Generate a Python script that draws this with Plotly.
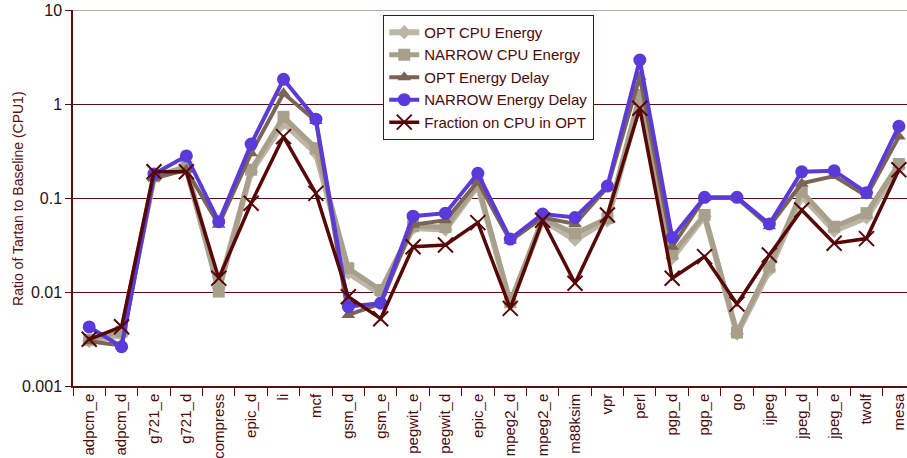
import plotly.graph_objects as go

categories = ["adpcm_e", "adpcm_d", "g721_e", "g721_d", "compress", "epic_d", "li", "mcf",
              "gsm_d", "gsm_e", "pegwit_e", "pegwit_d", "epic_e", "mpeg2_d", "mpeg2_e",
              "m88ksim", "vpr", "perl", "pgp_d", "pgp_e", "go", "ijpeg", "jpeg_d", "jpeg_e",
              "twolf", "mesa"]

opt_cpu_energy = [0.0030, 0.0035, 0.165, 0.205, 0.011, 0.19, 0.63, 0.30,
                  0.016, 0.0095, 0.048, 0.046, 0.135, 0.0075, 0.058,
                  0.036, 0.058, 1.1, 0.023, 0.064, 0.0036, 0.017, 0.105, 0.045,
                  0.062, 0.21]
narrow_cpu_energy = [0.0031, 0.0038, 0.17, 0.215, 0.0101, 0.20, 0.73, 0.34,
                     0.0179, 0.0105, 0.050, 0.049, 0.14, 0.0078, 0.060,
                     0.042, 0.061, 1.25, 0.0254, 0.066, 0.0037, 0.0186, 0.117, 0.0495,
                     0.069, 0.23]
opt_energy_delay = [0.0030, 0.0027, 0.163, 0.20, 0.052, 0.30, 1.30, 0.66,
                    0.0057, 0.0075, 0.052, 0.058, 0.15, 0.035, 0.062,
                    0.053, 0.13, 1.95, 0.0303, 0.10, 0.10, 0.050, 0.143, 0.171,
                    0.105, 0.45]
narrow_energy_delay = [0.00425, 0.00262, 0.18, 0.28, 0.056, 0.375, 1.83, 0.69,
                       0.0070, 0.0076, 0.064, 0.069, 0.183, 0.0366, 0.0676,
                       0.062, 0.134, 2.94, 0.038, 0.1016, 0.1016, 0.0529, 0.19, 0.195,
                       0.114, 0.58]
fraction_cpu_opt = [0.00314, 0.00427, 0.19, 0.19, 0.014, 0.088, 0.45, 0.112,
                    0.0089, 0.0052, 0.0303, 0.0316, 0.0547, 0.0067, 0.058,
                    0.0124, 0.066, 0.90, 0.014, 0.0238, 0.00745, 0.0248, 0.0745, 0.033,
                    0.037, 0.20]

y_tickvals = [0.001, 0.01, 0.1, 1, 10]
y_ticktext = ["0.001", "0.01", "0.1", "1", "10"]

MAROON = "#5a0f0f"
FONT = "Liberation Sans, Arial, Helvetica, sans-serif"

fig = go.Figure()
fig.add_trace(go.Scatter(x=categories, y=opt_cpu_energy, name="OPT CPU Energy",
                         mode="lines+markers",
                         line=dict(color="#bdb6a6", width=6),
                         marker=dict(symbol="diamond", size=11, color="#bdb6a6")))
fig.add_trace(go.Scatter(x=categories, y=narrow_cpu_energy, name="NARROW CPU Energy",
                         mode="lines+markers",
                         line=dict(color="#a9a08c", width=5),
                         marker=dict(symbol="square", size=12, color="#a9a08c")))
fig.add_trace(go.Scatter(x=categories, y=opt_energy_delay, name="OPT Energy Delay",
                         mode="lines+markers",
                         line=dict(color="#7b6356", width=4),
                         marker=dict(symbol="triangle-up", size=12, color="#7b6356")))
fig.add_trace(go.Scatter(x=categories, y=narrow_energy_delay, name="NARROW Energy Delay",
                         mode="lines+markers",
                         line=dict(color="#5a3ad8", width=4),
                         marker=dict(symbol="circle", size=13, color="#5a3ad8")))
fig.add_trace(go.Scatter(x=categories, y=fraction_cpu_opt, name="Fraction on CPU in OPT",
                         mode="lines+markers",
                         line=dict(color="#560808", width=3.5),
                         marker=dict(symbol="x-thin-open", size=15,
                                     line=dict(color="#560808", width=2))))

fig.add_shape(type="line", xref="paper", yref="y", x0=0, x1=1, y0=10, y1=10,
              line=dict(color="#b5ae9e", width=2), layer="below")

fig.add_annotation(text="Ratio of Tartan to Baseline (CPU1)", textangle=-90,
                   xref="paper", yref="paper", x=-0.066, y=0.5,
                   xanchor="center", yanchor="middle", showarrow=False,
                   font=dict(size=14, color=MAROON, family=FONT))

fig.update_layout(
    width=907, height=458,
    margin=dict(l=73, r=0, t=10, b=72),
    paper_bgcolor="white", plot_bgcolor="white",
    font=dict(family=FONT, color=MAROON),
    showlegend=True,
    legend=dict(x=0.372, y=0.987, xanchor="left", yanchor="top",
                bgcolor="white", bordercolor=MAROON, borderwidth=1,
                font=dict(size=15, color="#4a0a0a", family=FONT),
                itemwidth=30, tracegroupgap=0),
    xaxis=dict(range=[-0.5, 25.25], tickangle=-90, tickson="boundaries",
               ticks="outside", ticklen=8, tickcolor=MAROON,
               showline=True, linecolor=MAROON, linewidth=1.5,
               showgrid=False, zeroline=False,
               tickfont=dict(size=15, color="#4a0a0a", family=FONT),
               automargin=False),
    yaxis=dict(type="log", range=[-3, 1], tickvals=y_tickvals, ticktext=y_ticktext,
               ticks="outside", ticklen=6, tickcolor=MAROON,
               showline=True, linecolor=MAROON, linewidth=1.5,
               showgrid=True, gridcolor=MAROON, gridwidth=1,
               zeroline=False,
               tickfont=dict(size=16, color="#2a1010", family=FONT),
               automargin=False),
)

fig.write_html("out.html")
